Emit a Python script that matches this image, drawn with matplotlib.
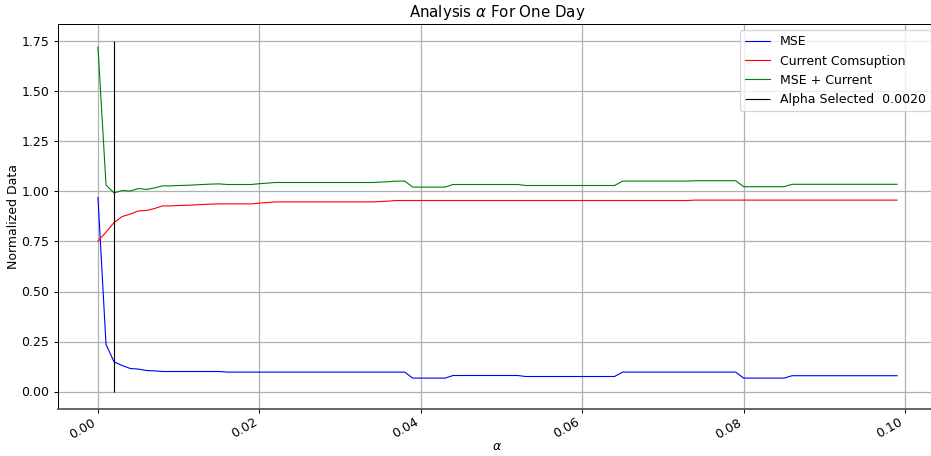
import numpy as np
import matplotlib
matplotlib.use("Agg")
import matplotlib.pyplot as plt

# Regularisation strengths swept during the daily analysis
alphas = np.arange(100) * 0.001

# Normalised mean squared error for each alpha
mse = [
    0.970, 0.235, 0.148, 0.130, 0.115, 0.112, 0.105, 0.103, 0.100, 0.100,
    0.100, 0.100, 0.100, 0.100, 0.100, 0.100, 0.097, 0.097, 0.097, 0.097,
    0.097, 0.097, 0.097, 0.097, 0.097, 0.097, 0.097, 0.097, 0.097, 0.097,
    0.097, 0.097, 0.097, 0.097, 0.097, 0.097, 0.097, 0.097, 0.097, 0.067,
    0.067, 0.067, 0.067, 0.067, 0.080, 0.080, 0.080, 0.080, 0.080, 0.080,
    0.080, 0.080, 0.080, 0.075, 0.075, 0.075, 0.075, 0.075, 0.075, 0.075,
    0.075, 0.075, 0.075, 0.075, 0.075, 0.097, 0.097, 0.097, 0.097, 0.097,
    0.097, 0.097, 0.097, 0.097, 0.097, 0.097, 0.097, 0.097, 0.097, 0.097,
    0.067, 0.067, 0.067, 0.067, 0.067, 0.067, 0.079, 0.079, 0.079, 0.079,
    0.079, 0.079, 0.079, 0.079, 0.079, 0.079, 0.079, 0.079, 0.079, 0.079,
]

# Normalised current consumption for each alpha
current = [
    0.752, 0.797, 0.845, 0.875, 0.887, 0.903, 0.905, 0.915, 0.928, 0.928,
    0.930, 0.931, 0.933, 0.935, 0.937, 0.938, 0.938, 0.938, 0.938, 0.938,
    0.942, 0.945, 0.948, 0.948, 0.948, 0.948, 0.948, 0.948, 0.948, 0.948,
    0.948, 0.948, 0.948, 0.948, 0.948, 0.950, 0.952, 0.955, 0.955, 0.955,
    0.955, 0.955, 0.955, 0.955, 0.955, 0.955, 0.955, 0.955, 0.955, 0.955,
    0.955, 0.955, 0.955, 0.955, 0.955, 0.955, 0.955, 0.955, 0.955, 0.955,
    0.955, 0.955, 0.955, 0.955, 0.955, 0.955, 0.955, 0.955, 0.955, 0.955,
    0.955, 0.955, 0.955, 0.955, 0.957, 0.957, 0.957, 0.957, 0.957, 0.957,
    0.957, 0.957, 0.957, 0.957, 0.957, 0.957, 0.957, 0.957, 0.957, 0.957,
    0.957, 0.957, 0.957, 0.957, 0.957, 0.957, 0.957, 0.957, 0.957, 0.957,
]

alpha_selected = 0.002
selected_top = 1.75

total = np.array(mse) + np.array(current)

DPI = 90
fig = plt.figure(figsize=(931 / DPI, 456 / DPI), dpi=DPI)
ax = fig.add_axes([58 / 931, 47 / 456, 879 / 931, 385 / 456])

ax.plot(alphas, mse, color="blue", lw=0.9, label="MSE")
ax.plot(alphas, current, color="red", lw=0.9, label="Current Comsuption")
ax.plot(alphas, total, color="green", lw=0.9, label="MSE + Current")
ax.vlines(alpha_selected, 0, selected_top, color="black", lw=0.9,
          label="Alpha Selected  %.4f" % alpha_selected)

ax.grid(True, color="#b0b0b0", lw=1)
ax.set_axisbelow(True)
ax.set_title(r"Analysis $\alpha$ For One Day", fontsize=12)
ax.set_xlabel(r"$\alpha$", labelpad=0)
ax.xaxis.set_label_coords(0.5, -0.08)
ax.set_ylabel("Normalized Data")
ax.yaxis.set_label_coords(-0.043, 0.5)
ax.set_xticks([0.0, 0.02, 0.04, 0.06, 0.08, 0.10])
ax.set_xticklabels(["0.00", "0.02", "0.04", "0.06", "0.08", "0.10"],
                   rotation=30, ha="right")
ax.tick_params(axis="x", pad=2)
ax.spines["bottom"].set_color("#606060")
ax.spines["bottom"].set_linewidth(1.5)

ax.legend(loc="upper right")

fig.savefig("out.png", dpi=DPI)
